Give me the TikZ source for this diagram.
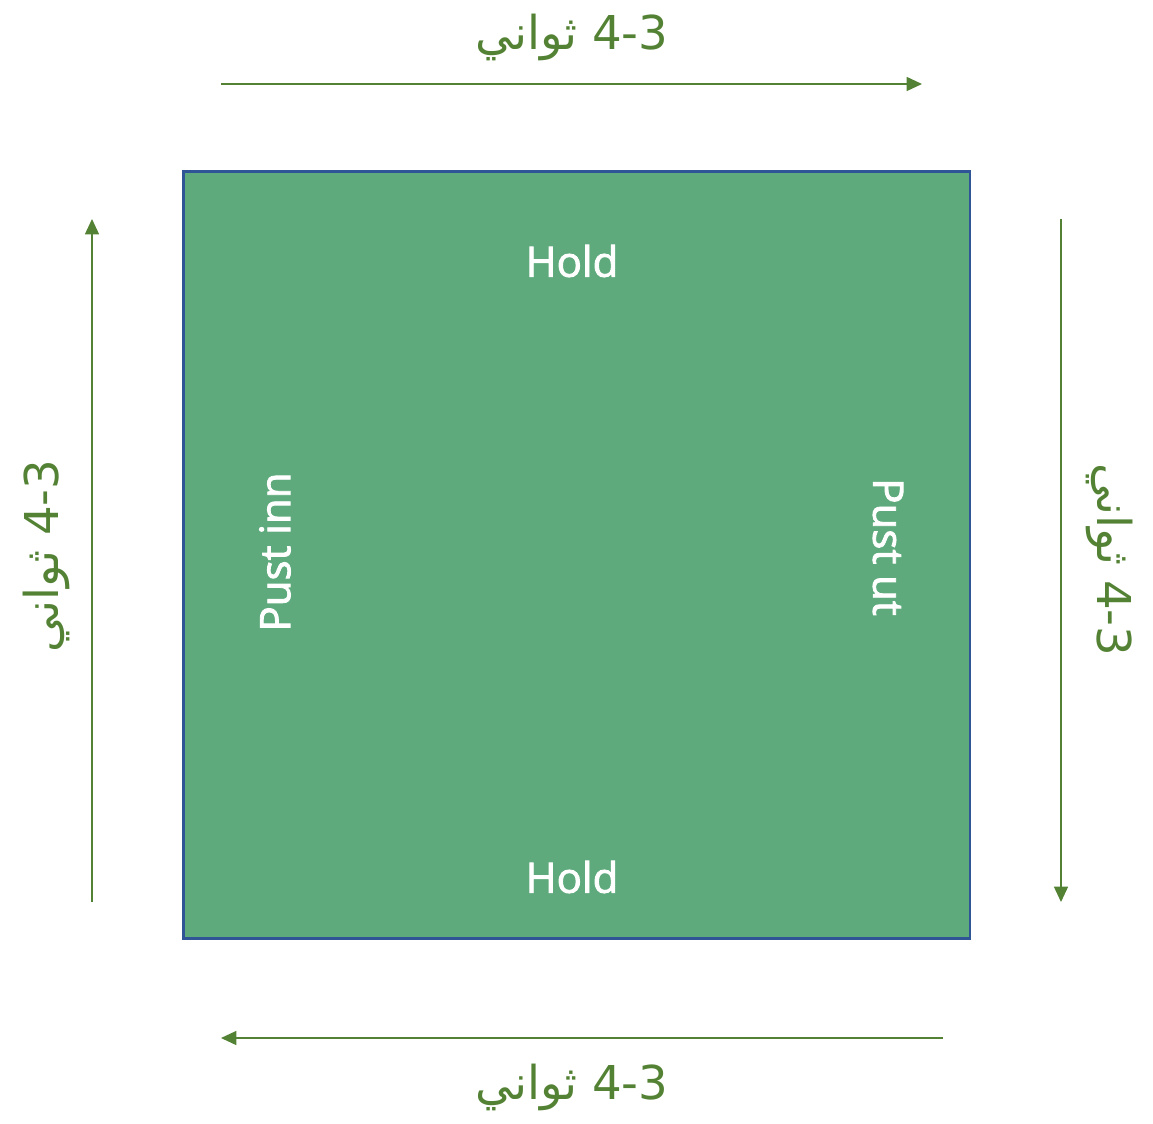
\documentclass[tikz,border=0pt]{standalone}
\usepackage{fontspec}
\setmainfont{Open Sans}
\newfontfamily\semifont[FakeBold=2]{Open Sans}
\newfontfamily\arabicfont[Script=Arabic]{DejaVu Sans}
\TeXXeTstate=1
\usetikzlibrary{arrows.meta}
\definecolor{boxfill}{HTML}{5EAA7C}
\definecolor{boxline}{HTML}{2F5597}
\definecolor{arrowgreen}{HTML}{548235}
\tikzset{
  boxlabel/.style={text=white, font=\semifont\fontsize{31.5}{36}\selectfont, inner sep=0pt},
  timelabel/.style={text=arrowgreen, font=\arabicfont\fontsize{35}{40}\selectfont, inner sep=0pt},
  timearrow/.style={draw=arrowgreen, line width=1.1pt, -{Triangle[length=11.5pt, width=10.5pt]}},
}
\newcommand{\secs}{\beginR\beginL 4-3\endL{} ثواني\endR}
\begin{document}
\begin{tikzpicture}[x=0.75pt, y=-0.75pt]
\useasboundingbox (0,0) rectangle (1153,1124);
\node[draw=boxline, fill=boxfill, line width=1.9pt, outer sep=0pt, minimum width=786.5pt*0.75, minimum height=767pt*0.75, inner sep=0pt, anchor=north west] (box) at (183.5,171.5) {};
\node[boxlabel] (holdtop) at (572,261) {Hold};
\node[boxlabel] (holdbot) at (572,877) {Hold};
\node[boxlabel, rotate=90] (inn) at (275,552) {Pust inn};
\node[boxlabel, rotate=-90] (ut) at (888,547) {Pust ut};
\node[timelabel] (ttop) at (572,37) {\secs};
\node[timelabel] (tbot) at (572,1087) {\secs};
\node[timelabel, rotate=90] (tleft) at (46,556) {\secs};
\node[timelabel, rotate=-90] (tright) at (1110,560) {\secs};
\coordinate (a1s) at (221,84); \coordinate (a1e) at (922,84);
\coordinate (a2s) at (92,902); \coordinate (a2e) at (92,219);
\coordinate (a3s) at (1061,219); \coordinate (a3e) at (1061,902);
\coordinate (a4s) at (943,1038); \coordinate (a4e) at (221,1038);
\draw[timearrow] (a1s) -- (a1e);
\draw[timearrow] (a2s) -- (a2e);
\draw[timearrow] (a3s) -- (a3e);
\draw[timearrow] (a4s) -- (a4e);
\end{tikzpicture}
\end{document}
